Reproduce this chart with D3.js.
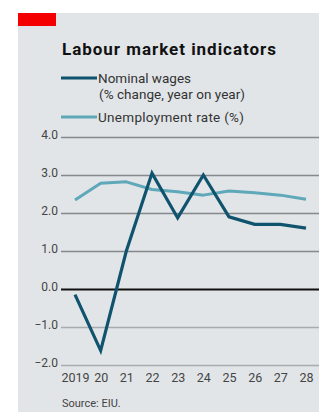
<!DOCTYPE html>
<html><head><meta charset="utf-8">
<script src="https://cdn.jsdelivr.net/npm/d3@7"></script>
<style>
html,body{margin:0;padding:0;background:#fff;}
svg{display:block;}
text{font-family:"Roboto","Noto Sans",sans-serif;}
</style></head><body>
<svg id="c" width="320" height="412"></svg>
<script>
const years = ["2019","20","21","22","23","24","25","26","27","28"];
const wages = [-0.15, -1.62, 1.0, 3.05, 1.87, 3.0, 1.9, 1.7, 1.7, 1.6];
const unemployment = [2.34, 2.78, 2.82, 2.62, 2.56, 2.47, 2.58, 2.53, 2.47, 2.36];
const yTicks = [4, 3, 2, 1, 0, -1, -2];

const svg = d3.select("#c");
svg.append("rect").attr("x",18).attr("y",13).attr("width",301).attr("height",399).attr("fill","#e1e5e8");
svg.append("rect").attr("x",18).attr("y",13).attr("width",38).attr("height",13).attr("fill","#f40000");

svg.append("text").attr("x",62).attr("y",55).attr("font-size",17).attr("font-weight","bold")
  .attr("fill","#111").attr("textLength",214).text("Labour market indicators");

const wageCol = "#10536e", unCol = "#5ea8b9";
// legend
svg.append("line").attr("x1",61).attr("x2",97).attr("y1",78).attr("y2",78).attr("stroke",wageCol).attr("stroke-width",3);
svg.append("text").attr("x",98).attr("y",83).attr("font-size",13.5).attr("fill","#333").attr("textLength",93).text("Nominal wages");
svg.append("text").attr("x",99).attr("y",99).attr("font-size",13.5).attr("fill","#333").attr("textLength",146).text("(% change, year on year)");
svg.append("line").attr("x1",61).attr("x2",97).attr("y1",117).attr("y2",117).attr("stroke",unCol).attr("stroke-width",3);
svg.append("text").attr("x",98).attr("y",122).attr("font-size",13.5).attr("fill","#333").attr("textLength",146).text("Unemployment rate (%)");

const y = d3.scaleLinear().domain([-2,4]).range([365,137]);
const x = d3.scalePoint().domain(years).range([75,306]);

const yAxis = svg.append("g").attr("transform","translate(61,0)")
  .call(d3.axisRight(y).tickValues(yTicks).tickSize(258).tickFormat(d3.format(".1f")));
yAxis.select(".domain").remove();
yAxis.selectAll(".tick line").attr("stroke",d=> d===0 ? "#111" : (d<0 ? "#a8acae" : "#85898b")).attr("stroke-width",d=>d===0?2:1.5);
yAxis.selectAll(".tick text").attr("x",-3).attr("dy","0.1em").attr("text-anchor","end")
  .attr("font-size",12).attr("fill","#444");

const xAxis = svg.append("g").attr("transform","translate(0,367)")
  .call(d3.axisBottom(x).tickSize(0).tickPadding(6));
xAxis.select(".domain").remove();
xAxis.selectAll(".tick text").attr("font-size",12.5).attr("fill","#444");

const line = d3.line().x((d,i)=>x(years[i])).y(d=>y(d));
svg.append("path").datum(unemployment).attr("d",line).attr("fill","none").attr("stroke",unCol).attr("stroke-width",3).attr("stroke-linejoin","round");
svg.append("path").datum(wages).attr("d",line).attr("fill","none").attr("stroke",wageCol).attr("stroke-width",3.2).attr("stroke-linejoin","miter");

svg.append("text").attr("x",62).attr("y",407).attr("font-size",11).attr("fill","#444").text("Source: EIU.");
</script></body></html>
